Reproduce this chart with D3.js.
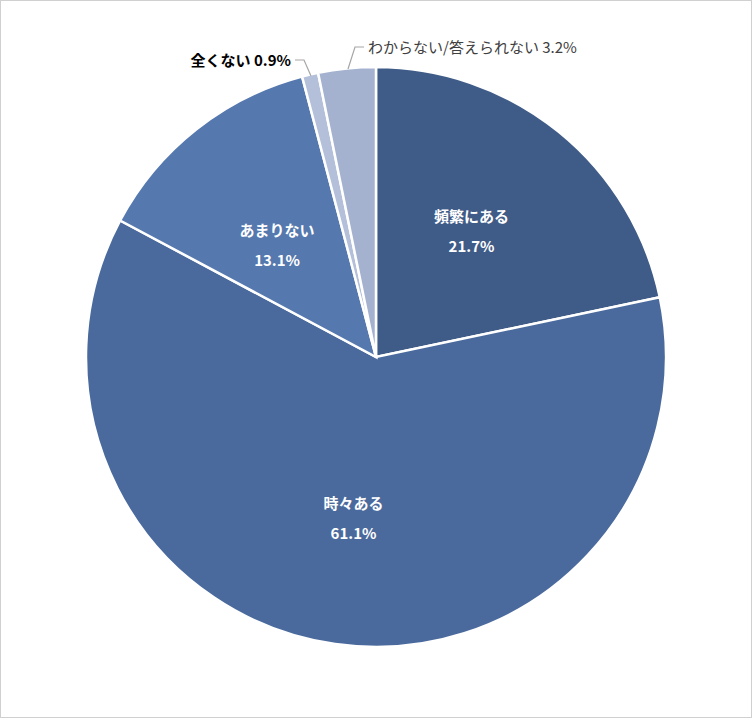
<!DOCTYPE html>
<html><head><meta charset="utf-8">
<script src="https://cdn.jsdelivr.net/npm/d3@7"></script>
<style>body{margin:0;background:#fff}text{font-family:"Noto Sans CJK JP","Noto Sans",sans-serif}</style>
</head><body><svg id="c" width="752" height="718"></svg>
<script>
const labels = ['頻繁にある', '時々ある', 'あまりない', '全くない', 'わからない/答えられない'];
const values = [21.7, 61.1, 13.1, 0.9, 3.2];
const colors = ['#3f5b87', '#4a6a9d', '#5578ae', '#b4c0da', '#a4b2d0'];

const svg = d3.select('#c');
svg.append('rect').attr('x', 0.5).attr('y', 0.5).attr('width', 751).attr('height', 717)
  .attr('fill', '#fff').attr('stroke', '#d0d0d0');

const cx = 376, cy = 357, r = 290;
const g = svg.append('g').attr('transform', `translate(${cx},${cy})`);
const pie = d3.pie().sort(null).value(d => d)(values);
const arc = d3.arc().innerRadius(0).outerRadius(r);

g.selectAll('path').data(pie).join('path')
  .attr('d', arc).attr('fill', (d, i) => colors[i])
  .attr('stroke', '#fff').attr('stroke-width', 2.5);

// inside labels
const inner = d3.arc().innerRadius(r * 0.55).outerRadius(r * 0.55);
const pos = [[-5, -5], [0, 0], [0, 10]];
[0, 1, 2].forEach(i => {
  const [x, y] = inner.centroid(pie[i]);
  const t = g.append('text').attr('text-anchor', 'middle').attr('fill', '#fff')
    .attr('font-size', 15).attr('font-weight', 'bold');
  t.append('tspan').attr('x', x + pos[i][0]).attr('y', y + pos[i][1] - 6).text(labels[i]);
  t.append('tspan').attr('x', x + pos[i][0]).attr('y', y + pos[i][1] + 24).text(values[i].toFixed(1) + '%');
});

// outside labels with leader lines
const lead = svg.append('g').attr('fill', 'none').attr('stroke', '#a6a6a6').attr('stroke-width', 1.2);
lead.append('path').attr('d', 'M295,60 L304,60 L311,76');
lead.append('path').attr('d', 'M364,47 L355,47 L348,69');
svg.append('text').attr('x', 291).attr('y', 66).attr('text-anchor', 'end')
  .attr('font-size', 15).attr('font-weight', 'bold').attr('fill', '#000')
  .text(labels[3] + ' ' + values[3].toFixed(1) + '%');
svg.append('text').attr('x', 368).attr('y', 53)
  .attr('font-size', 15).attr('fill', '#404040')
  .text(labels[4] + ' ' + values[4].toFixed(1) + '%');
</script></body></html>
